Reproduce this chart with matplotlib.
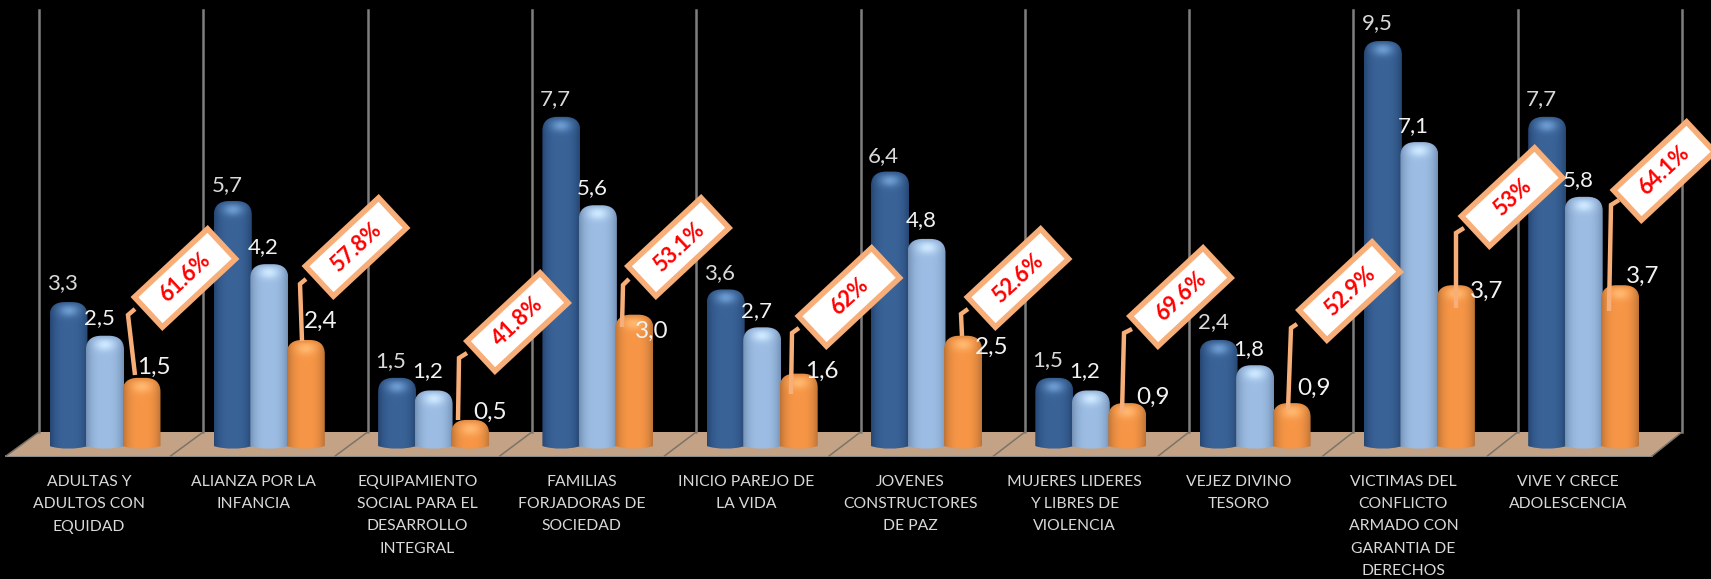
import numpy as np
import matplotlib
matplotlib.use('Agg')
import matplotlib.pyplot as plt
from matplotlib.path import Path
from matplotlib.patches import PathPatch, Polygon
from matplotlib.transforms import Affine2D

plt.rcParams['font.family'] = ['Lato', 'DejaVu Sans']

categories = ['ADULTAS Y\nADULTOS CON\nEQUIDAD', 'ALIANZA POR LA\nINFANCIA',
              'EQUIPAMIENTO\nSOCIAL PARA EL\nDESARROLLO\nINTEGRAL',
              'FAMILIAS\nFORJADORAS DE\nSOCIEDAD', 'INICIO PAREJO DE\nLA VIDA',
              'JOVENES\nCONSTRUCTORES\nDE PAZ', 'MUJERES LIDERES\nY LIBRES DE\nVIOLENCIA',
              'VEJEZ DIVINO\nTESORO', 'VICTIMAS DEL\nCONFLICTO\nARMADO CON\nGARANTIA DE\nDERECHOS',
              'VIVE Y CRECE\nADOLESCENCIA']
serie1 = [3.3, 5.7, 1.5, 7.7, 3.6, 6.4, 1.5, 2.4, 9.5, 7.7]
serie2 = [2.5, 4.2, 1.2, 5.6, 2.7, 4.8, 1.2, 1.8, 7.1, 5.8]
serie3 = [1.5, 2.4, 0.5, 3.0, 1.6, 2.5, 0.9, 0.9, 3.7, 3.7]
porcentajes = ['61.6%', '57.8%', '41.8%', '53.1%', '62%', '52.6%', '69.6%', '52.9%', '53%', '64.1%']

# layout in reference pixels
W, H = 1711, 579
X0, DX = 105, 164.3   # centre of first group, group spacing
Y0, DY = 441, 42.1    # pixel of value 0, pixels per unit
label_pos = [[(62, 283), (99, 318), (154, 367)], [(227, 185), (263, 247), (321, 321)],
             [(391, 361), (428, 371), (490, 412)], [(555, 99), (592, 188), (652, 331)],
             [(720, 273), (757, 311), (822, 371)], [(883, 156), (921, 220), (992, 347)],
             [(1048, 360), (1085, 371), (1153, 397)], [(1213, 322), (1249, 349), (1314, 388)],
             [(1377, 23), (1413, 126), (1487, 291)], [(1541, 99), (1578, 180), (1643, 276)]]
callout_pos = [(185, 278), (356, 247), (517.5, 322), (678.5, 247), (849, 297),
               (1018, 278), (1180.5, 297), (1349.5, 291), (1512, 197), (1664, 171)]
leaders = [[(135, 375), (128, 315), (135, 309)], [(302, 341), (300, 284), (306, 279)],
           [(458, 420), (459, 358), (467, 353)], [(622, 327), (623, 285), (629, 279)],
           [(791, 394), (792, 333), (799, 328)], [(962, 336), (961, 314), (968, 309)],
           [(1122, 413), (1124, 333), (1132, 329)], [(1288, 410), (1291, 328), (1297, 324)],
           [(1456, 308), (1456, 233), (1464, 228)], [(1609, 311), (1611, 205), (1619, 200)]]

fig = plt.figure(figsize=(W / 100, H / 100), dpi=100, facecolor='black')
ax = fig.add_axes([0, 0, 1, 1], facecolor='black')
ax.set_xlim((0 - X0) / DX, (W - X0) / DX)
ax.set_ylim((Y0 - H) / DY, Y0 / DY)
ax.axis('off')
px = Affine2D().scale(1, -1).translate(0, H)


def shade_img(base, edge, light, ny, top_px):
    # cylinder shading plus the glossy spot under the cap
    nx = 60
    t = np.linspace(0, 1, nx)[None, :, None]
    k = np.abs(2 * t - 1) ** 3
    img = np.array(base)[None, None, :] * (1 - k) + np.array(edge)[None, None, :] * k
    img = np.repeat(img, ny, axis=0)
    yy = np.arange(ny)[:, None]
    xx = np.arange(nx)[None, :]
    spot = np.exp(-((xx - 29.5) / 15.0) ** 2 - ((yy - top_px) / 6.0) ** 2)[:, :, None]
    img = img * (1 - spot) + np.array(light)[None, None, :] * spot
    rim = np.exp(-(yy / 3.0) ** 2)[:, :, None]
    img = img * (1 - 0.35 * rim) + np.array(edge)[None, None, :] * 0.35 * rim
    return img


def rgb(c):
    return matplotlib.colors.to_rgb(c)


def cyl_bar(x, v, w, base, edge, light, z):
    rx, ry = w * 0.4, 14 / DY
    b, c = -5 / DY, -8.5 / DY
    l, r = x - w / 2, x + w / 2
    verts = [(l, b), (l, v - ry), (l, v - ry * 0.3), (l + rx * 0.4, v), (l + rx, v),
             (r - rx, v), (r - rx * 0.4, v), (r, v - ry * 0.3), (r, v - ry), (r, b),
             (x + w / 4, c), (x - w / 4, c), (l, b), (l, b)]
    codes = [Path.MOVETO, Path.LINETO, Path.CURVE4, Path.CURVE4, Path.CURVE4,
             Path.LINETO, Path.CURVE4, Path.CURVE4, Path.CURVE4, Path.LINETO,
             Path.CURVE4, Path.CURVE4, Path.CURVE4, Path.CLOSEPOLY]
    patch = PathPatch(Path(verts, codes), fc='none', ec='none', transform=ax.transData)
    ax.add_patch(patch)
    ny = max(int((v - c) * DY), 4)
    img = shade_img(rgb(base), rgb(edge), rgb(light), ny, 9)
    im = ax.imshow(img, extent=(l, r, c, v), aspect='auto', origin='upper', zorder=z,
                   interpolation='bilinear')
    im.set_clip_path(patch)


# floor and walls
ax.add_patch(Polygon([(6, 456), (39, 432), (1682, 432), (1652, 456)], closed=True,
                     fc='#C4A286', ec='none', transform=px, zorder=1))
ax.plot([6, 1652], [456, 456], color='#A6A6A6', lw=1.2, transform=px, zorder=1.5)
for i in range(11):
    xb = 39 + i * 164.3
    xf = 6 + i * 164.6
    ax.plot([xb, xb], [10, 432], color='#7F7F7F', lw=1.8, transform=px, zorder=1)
    ax.plot([xb, xf], [432, 456], color='#7A7468', lw=1.1, transform=px, zorder=1.5)

w = 38 / DX
step = 36.5 / DX
for i in range(len(categories)):
    cyl_bar(i - step, serie1[i], w, '#3A6398', '#254672', '#6C9BD0', 3)
    cyl_bar(i, serie2[i], w, '#9DBDE4', '#7491B5', '#CDE8FF', 4)
    cyl_bar(i + step, serie3[i], w, '#F79646', '#BC7336', '#FFB870', 5)

    ax.text(i - 16 / DX, (Y0 - 475) / DY, categories[i], ha='center', va='top', color='#D9D9D9',
            fontsize=11.35, linespacing=1.75, zorder=6)

    xs, ys = zip(*leaders[i])
    ax.plot(xs, ys, color='#F8AE78', lw=3.2, transform=px, zorder=8, solid_joinstyle='miter',
            solid_capstyle='butt')

    cx, cy = callout_pos[i]
    box = np.array([[-50, -20.5], [50, -20.5], [50, 20.5], [-50, 20.5]])
    rot = Affine2D().rotate_deg(-43).translate(cx, cy)
    ax.add_patch(Polygon(rot.transform(box), closed=True, fc='white', ec='#F8AE78', lw=4,
                         transform=px, zorder=9, joinstyle='miter'))
    ax.text(cx, cy, porcentajes[i], transform=px, rotation=43, rotation_mode='anchor',
            ha='center', va='center', color='#FF0000', fontsize=15.7, fontweight='bold', zorder=10)

    vals = [serie1[i], serie2[i], serie3[i]]
    for (lx, ly), v, fs, col in zip(label_pos[i], vals, [16, 16, 17.5], ['#D9D9D9', '#F2F2F2', '#F2F2F2']):
        ax.text(lx, ly, f'{v:.1f}'.replace('.', ','), transform=px, ha='center', va='center',
                color=col, fontsize=fs, zorder=11)

fig.savefig('out.png', dpi=100, facecolor='black')
